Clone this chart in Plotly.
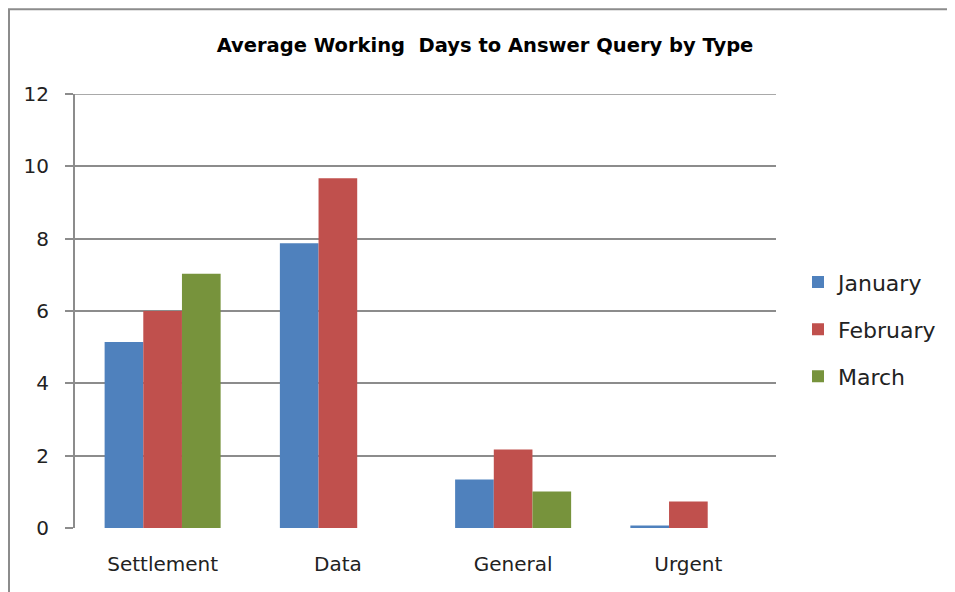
import plotly.graph_objects as go

categories = ["Settlement", "Data", "General", "Urgent"]
january = [5.14, 7.87, 1.34, 0.07]
february = [6.0, 9.67, 2.17, 0.73]
march = [7.03, None, 1.01, None]
series_names = ["January", "February", "March"]
colors = ["#4F81BD", "#C0504D", "#77933C"]
y_ticks = [0, 2, 4, 6, 8, 10, 12]

OFF = 8  # page body margin
W, H = 955 - OFF, 592 - OFF
L, R, T, B = 75 - OFF, 776 - OFF, 93.7 - OFF, 527.7 - OFF

fig = go.Figure()
for name, vals, col in zip(series_names, [january, february, march], colors):
    fig.add_trace(go.Bar(x=categories, y=vals, name=name, marker=dict(color=col, line=dict(width=0)),
                         legendgroup=name))

pw, ph = R - L, B - T
def px(x):
    return (x - OFF - L) / pw
def py(y):
    return (B - (y - OFF)) / ph

fig.update_layout(
    width=W, height=H,
    margin=dict(l=L, r=W - R, t=T, b=H - B, pad=0),
    paper_bgcolor="white", plot_bgcolor="white",
    barmode="group", bargap=0.338, bargroupgap=0,
    font=dict(family="DejaVu Sans", size=20, color="#222222"),
    title=dict(text="<b>Average Working  Days to Answer Query by Type</b>",
               font=dict(family="DejaVu Sans", size=19.5, color="#000000"),
               x=px(485), xref="paper", xanchor="center",
               y=1 - (45 - OFF) / H, yref="container", yanchor="middle"),
    legend=dict(x=px(798), xanchor="left", y=py(329), yanchor="middle",
                traceorder="grouped", tracegroupgap=15.5,
                font=dict(family="DejaVu Sans", size=22, color="#222222"),
                bgcolor="rgba(0,0,0,0)"),
    showlegend=True,
    xaxis=dict(showgrid=False, showline=False, ticks="", zeroline=False,
               tickfont=dict(family="DejaVu Sans", size=20, color="#222222"),
               ticklabelstandoff=22),
    yaxis=dict(range=[0, 12], tickvals=y_ticks, showgrid=True, gridcolor="#8C8C8C", gridwidth=1.5,
               showline=True, linecolor="#8C8C8C", linewidth=2, ticks="outside", ticklen=8,
               tickcolor="#8C8C8C", tickwidth=1.5, zeroline=False,
               tickfont=dict(family="DejaVu Sans", size=20, color="#222222"),
               ticklabelstandoff=12),
    shapes=[
        dict(type="rect", xref="paper", yref="paper",
             x0=px(OFF + 1), x1=px(955 + 20), y0=py(592 + 20), y1=py(OFF + 1),
             line=dict(color="#8C8C8C", width=2), fillcolor="rgba(0,0,0,0)", layer="below"),
        dict(type="line", xref="paper", yref="y", x0=0, x1=1, y0=y_ticks[-1], y1=y_ticks[-1],
             line=dict(color="#8C8C8C", width=1.5), layer="below"),
    ],
)

fig.write_html("out.html")
